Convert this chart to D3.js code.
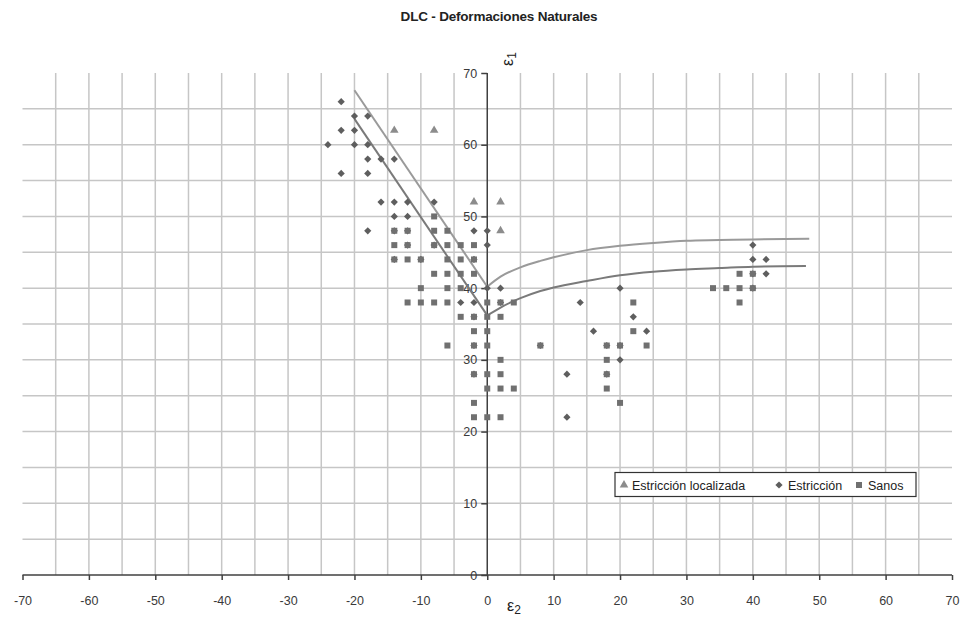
<!DOCTYPE html>
<html>
<head>
<meta charset="utf-8">
<script src="https://cdn.jsdelivr.net/npm/d3@7"></script>
<style>
  html, body { margin: 0; padding: 0; background: #fff; }
  svg { display: block; font-family: "Liberation Sans", Arial, sans-serif; }
</style>
</head>
<body>
<svg id="chart" width="962" height="620"></svg>
<script>
// ---- data ----
const xTicks = [-70, -60, -50, -40, -30, -20, -10, 0, 10, 20, 30, 40, 50, 60, 70];
const yTicks = [0, 10, 20, 30, 40, 50, 60, 70];
const seriesNames = ["Estricción localizada", "Estricción", "Sanos"];

const estriccionLocalizada = [
  [-14, 62], [-8, 62], [-2, 52], [2, 52], [2, 48]
];

const estriccion = [
  [-22, 66], [-20, 64], [-18, 64], [-22, 62], [-20, 62], [-24, 60], [-20, 60], [-18, 60],
  [-18, 58], [-16, 58], [-14, 58], [-22, 56], [-18, 56],
  [-16, 52], [-14, 52], [-12, 52], [-8, 52], [-14, 50], [-12, 50],
  [-18, 48], [-14, 48], [-12, 48], [-2, 48], [0, 48], [-12, 46], [-8, 46], [0, 46],
  [-14, 44], [-10, 44], [-2, 44], [0, 40], [2, 40], [-4, 38], [-2, 38], [2, 38],
  [-2, 36], [-2, 32], [-2, 28],
  [20, 40], [14, 38], [22, 36], [16, 34], [24, 34], [8, 32], [18, 32], [20, 32],
  [20, 30], [12, 28], [18, 28], [12, 22],
  [40, 46], [40, 44], [42, 44], [40, 42], [42, 42], [40, 40]
];

const sanos = [
  [-8, 50], [-14, 48], [-12, 48], [-8, 48], [-6, 48],
  [-14, 46], [-12, 46], [-8, 46], [-6, 46], [-4, 46], [-2, 46],
  [-14, 44], [-12, 44], [-10, 44], [-6, 44], [-4, 44], [-2, 44],
  [-8, 42], [-6, 42], [-4, 42], [-2, 42],
  [-10, 40], [-6, 40], [-4, 40],
  [-12, 38], [-10, 38], [-8, 38], [-6, 38], [0, 38], [2, 38], [4, 38],
  [-4, 36], [-2, 36], [0, 36], [2, 36], [-2, 34], [0, 34],
  [-6, 32], [-2, 32], [0, 32], [2, 30], [-2, 28], [0, 28], [2, 28],
  [0, 26], [2, 26], [4, 26], [-2, 24], [-2, 22], [0, 22], [2, 22],
  [22, 38], [22, 34], [8, 32], [18, 32], [20, 32], [24, 32], [18, 30],
  [18, 28], [18, 26], [20, 24],
  [38, 42], [40, 42], [34, 40], [36, 40], [38, 40], [40, 40], [38, 38]
];

const flcUpper = [
  [-20, 67.6], [0, 40.2], [2, 41.6], [5, 42.9], [8, 43.8], [10, 44.3], [15, 45.3],
  [20, 45.9], [25, 46.3], [30, 46.6], [35, 46.7], [40, 46.8], [48.5, 46.9]
];
const flcLower = [
  [-20, 63.6], [0, 36.2], [2, 37.3], [5, 38.6], [8, 39.6], [10, 40.1], [15, 41.0],
  [20, 41.8], [25, 42.3], [30, 42.6], [35, 42.8], [40, 43.0], [48, 43.1]
];

// ---- scales ----
const svg = d3.select("#chart");
const x = d3.scaleLinear().domain([-70, 70]).range([22.5, 952]);
const y = d3.scaleLinear().domain([0, 70]).range([575, 73]);

const gridColor = "#c6c6c6";
const axisColor = "#404040";
const textColor = "#3a3a3a";
const fmt = d => String(d);

// ---- gridlines ----
const grid = svg.append("g");
const vGrid = d3.range(-65, 70, 5).filter(v => v !== 0);
grid.selectAll("line.v").data(vGrid).join("line")
  .attr("x1", d => x(d)).attr("x2", d => x(d))
  .attr("y1", y(0)).attr("y2", y(70))
  .attr("stroke", gridColor).attr("stroke-width", 1.5);
const hGrid = d3.range(5, 70, 5);
grid.selectAll("line.h").data(hGrid).join("line")
  .attr("x1", x(-70)).attr("x2", x(70))
  .attr("y1", d => y(d)).attr("y2", d => y(d))
  .attr("stroke", gridColor).attr("stroke-width", 1.5);

// ---- axes ----
const xAxis = d3.axisBottom(x).tickValues(xTicks).tickSize(5).tickFormat(fmt);
const gx = svg.append("g").attr("transform", `translate(0,${y(0)})`).call(xAxis);
gx.select(".domain").attr("stroke", axisColor).attr("stroke-width", 1.5)
  .attr("d", `M${x(-70)},0H${x(70)}`);
gx.selectAll(".tick line").attr("stroke", axisColor).attr("stroke-width", 1.5);
gx.selectAll(".tick text").attr("fill", textColor).attr("font-size", 12.5)
  .attr("font-family", "Liberation Sans, Arial, sans-serif").attr("dy", "1.1em").attr("y", 16);

const yAxis = d3.axisLeft(y).tickValues(yTicks).tickSize(6).tickFormat(fmt);
const gy = svg.append("g").attr("transform", `translate(${x(0)},0)`).call(yAxis);
gy.select(".domain").attr("stroke", axisColor).attr("stroke-width", 1.5)
  .attr("d", `M0,${y(0)}V${y(70)}`);
gy.selectAll(".tick line").attr("stroke", axisColor).attr("stroke-width", 1.5);
gy.selectAll(".tick text").attr("fill", textColor).attr("font-size", 12.5)
  .attr("font-family", "Liberation Sans, Arial, sans-serif").attr("x", -10);

// ---- FLC curves ----
function drawCurve(pts, color) {
  const left = pts.filter(p => p[0] <= 0);
  const right = pts.filter(p => p[0] >= 0);
  const lineL = d3.line().x(d => x(d[0])).y(d => y(d[1]));
  const lineR = d3.line().x(d => x(d[0])).y(d => y(d[1])).curve(d3.curveMonotoneX);
  svg.append("path").attr("d", lineL(left)).attr("fill", "none")
    .attr("stroke", color).attr("stroke-width", 2);
  svg.append("path").attr("d", lineR(right)).attr("fill", "none")
    .attr("stroke", color).attr("stroke-width", 2);
}
drawCurve(flcUpper, "#9a9a9a");
drawCurve(flcLower, "#7a7a7a");

// ---- markers ----
const triColor = "#8c8c8c", diaColor = "#5e5e5e", sqColor = "#707070";
const triPath = d3.symbol(d3.symbolTriangle, 32)();
const diaPath = d3.symbol(d3.symbolSquare, 26)();
const sqPath = d3.symbol(d3.symbolSquare, 36)();

svg.append("g").selectAll("path").data(estriccionLocalizada).join("path")
  .attr("d", triPath).attr("fill", triColor)
  .attr("transform", d => `translate(${x(d[0])},${y(d[1])})`);
svg.append("g").selectAll("path").data(estriccion).join("path")
  .attr("d", diaPath).attr("fill", diaColor)
  .attr("transform", d => `translate(${x(d[0])},${y(d[1])}) rotate(45)`);
svg.append("g").selectAll("path").data(sanos).join("path")
  .attr("d", sqPath).attr("fill", sqColor)
  .attr("transform", d => `translate(${x(d[0])},${y(d[1])})`);

// ---- title ----
svg.append("text").attr("x", 499).attr("y", 21).attr("text-anchor", "middle")
  .attr("font-size", 13.5).attr("font-weight", "bold").attr("fill", "#222")
  .attr("letter-spacing", "-0.2")
  .text("DLC  - Deformaciones Naturales");

// ---- axis titles ----
const e2 = svg.append("text").attr("x", 507).attr("y", 611).attr("fill", "#222")
  .attr("font-size", 16);
e2.append("tspan").text("ε");
e2.append("tspan").attr("font-size", 12).attr("dy", 3).text("2");

const e1 = svg.append("text").attr("transform", "translate(513,66) rotate(-90)")
  .attr("fill", "#222").attr("font-size", 16);
e1.append("tspan").text("ε");
e1.append("tspan").attr("font-size", 12).attr("dy", 3).text("1");

// ---- legend ----
const lg = svg.append("g");
lg.append("rect").attr("x", 615).attr("y", 472.5).attr("width", 301).attr("height", 24)
  .attr("fill", "#fff").attr("stroke", "#333").attr("stroke-width", 1.2);
const legendItems = [
  { name: seriesNames[0], mx: 624, tx: 632, path: triPath, color: triColor, rot: 0 },
  { name: seriesNames[1], mx: 779, tx: 788, path: diaPath, color: diaColor, rot: 45 },
  { name: seriesNames[2], mx: 859, tx: 868, path: sqPath, color: sqColor, rot: 0 }
];
legendItems.forEach(it => {
  lg.append("path").attr("d", it.path).attr("fill", it.color)
    .attr("transform", `translate(${it.mx},485) rotate(${it.rot})`);
  lg.append("text").attr("x", it.tx).attr("y", 489.5).attr("font-size", 12.5)
    .attr("fill", "#222").text(it.name);
});
</script>
</body>
</html>
